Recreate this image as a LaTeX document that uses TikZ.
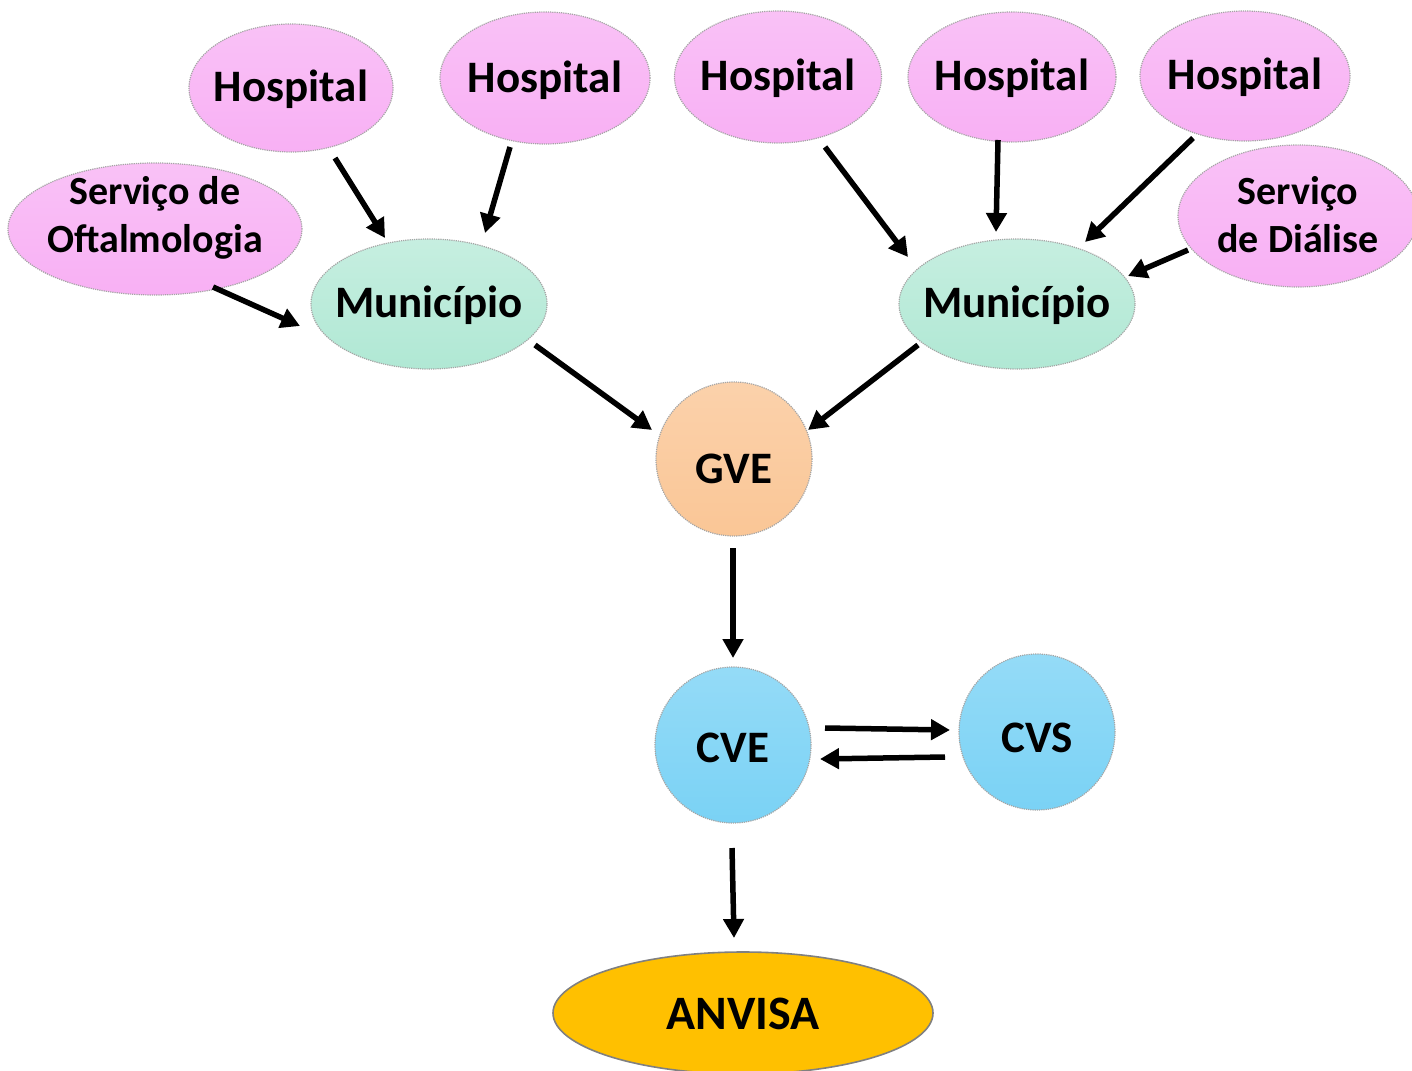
\documentclass[tikz,border=0pt]{standalone}
\usepackage{fontspec}
\setmainfont{Carlito}
\usetikzlibrary{shapes.geometric,arrows.meta,calc}
\definecolor{pinkc}{RGB}{248,176,244}
\definecolor{mintc}{RGB}{176,232,212}
\definecolor{peachc}{RGB}{250,198,150}
\definecolor{skyc}{RGB}{122,210,245}
\definecolor{goldc}{RGB}{255,192,0}
\definecolor{rimc}{RGB}{165,165,165}
% text placed with its last baseline #1 below the node centre
\newcommand{\ptxt}[2]{\makebox[0pt]{\raisebox{-#1}{\begin{tabular}[b]{@{}c@{}}#2\end{tabular}}}}
\tikzset{
  bubble/.style={ellipse, inner sep=0pt, outer sep=0pt,
    text height=0pt, text depth=0pt,
    draw=rimc, line width=1.2pt, densely dotted,
    font=\fontsize{45}{50}\selectfont\bfseries, text=black},
  pinkb/.style={bubble, top color=pinkc!78!white, bottom color=pinkc},
  mintb/.style={bubble, top color=mintc!72!white, bottom color=mintc},
  peachb/.style={bubble, top color=peachc!80!white, bottom color=peachc},
  skyb/.style={bubble, top color=skyc!80!white, bottom color=skyc},
  twoline/.style={font=\fontsize{40}{47.5}\selectfont\bfseries},
  arr/.style={line width=5.5pt, -{Triangle[length=19pt,width=20pt]}, draw=black},
}
\begin{document}
\begin{tikzpicture}[x=1pt,y=-1pt]
\useasboundingbox (0,0) rectangle (1412,1070);
\begin{scope}
\clip (0,0) rectangle (1412,1070);
% top row hospitals
\node[pinkb, minimum width=204pt, minimum height=128pt] (h1) at (291,88) {\ptxt{14pt}{Hospital}};
\node[pinkb, minimum width=210pt, minimum height=132pt] (h2) at (545,78) {\ptxt{14pt}{Hospital}};
\node[pinkb, minimum width=207pt, minimum height=132pt] (h3) at (778,77) {\ptxt{14pt}{Hospital}};
\node[pinkb, minimum width=208pt, minimum height=130pt] (h4) at (1012,77) {\ptxt{14pt}{Hospital}};
\node[pinkb, minimum width=210pt, minimum height=130pt] (h5) at (1245,76) {\ptxt{14pt}{Hospital}};
% services
\node[pinkb, twoline, minimum width=294pt, minimum height=132pt] (oft) at (155,229) {\ptxt{23pt}{Serviço de\\Oftalmologia}};
\node[pinkb, twoline, minimum width=240pt, minimum height=142pt] (dia) at (1298,216) {\ptxt{36pt}{Serviço\\de Diálise}};
% municipalities
\node[mintb, minimum width=236pt, minimum height=130pt] (munl) at (429,304) {\ptxt{13pt}{Município}};
\node[mintb, minimum width=236pt, minimum height=130pt] (munr) at (1017,304) {\ptxt{13pt}{Município}};
% circles
\node[peachb, minimum width=156pt, minimum height=154pt] (gve) at (734,459) {\ptxt{24pt}{GVE}};
\node[skyb, minimum width=156pt, minimum height=156pt] (cve) at (733,745) {\ptxt{17pt}{CVE}};
\node[skyb, minimum width=156pt, minimum height=156pt] (cvs) at (1037,732) {\ptxt{20pt}{CVS}};
% ANVISA
\node[ellipse, inner sep=0pt, outer sep=0pt, text height=0pt, text depth=0pt,
      fill=goldc, draw=black!50, line width=1.6pt,
      minimum width=380pt, minimum height=122pt,
      font=\fontsize{48}{54}\selectfont\bfseries] (anv) at (743,1013) {\ptxt{16pt}{ANVISA}};
\end{scope}
% connectors
\draw[arr] ($(h1)+(44,70)$) -- ($(munl)+(-44,-66)$);
\draw[arr] ($(h2)+(-35,69)$) -- ($(munl)+(56,-71)$);
\draw[arr] ($(oft)+(58,58)$) -- ($(munl)+(-129,22)$);
\draw[arr] ($(h3)+(47,70)$) -- ($(munr)+(-109,-47)$);
\draw[arr] ($(h4)+(-14,63)$) -- ($(munr)+(-21,-72)$);
\draw[arr] ($(h5)+(-52,62)$) -- ($(munr)+(68,-62)$);
\draw[arr] ($(dia)+(-110,34)$) -- ($(munr)+(111,-28)$);
\draw[arr] ($(munl)+(106,41)$) -- ($(gve)+(-82,-29)$);
\draw[arr] ($(munr)+(-99,41)$) -- ($(gve)+(74,-29)$);
\draw[arr] ($(gve)+(-1,89)$) -- ($(cve)+(0,-87)$);
\draw[arr] ($(cve)+(92,-17)$) -- ($(cvs)+(-87,-2)$);
\draw[arr] ($(cvs)+(-92,25)$) -- ($(cve)+(87,14)$);
\draw[arr] ($(cve)+(-1,103)$) -- ($(anv)+(-9,-75)$);
\end{tikzpicture}
\end{document}
